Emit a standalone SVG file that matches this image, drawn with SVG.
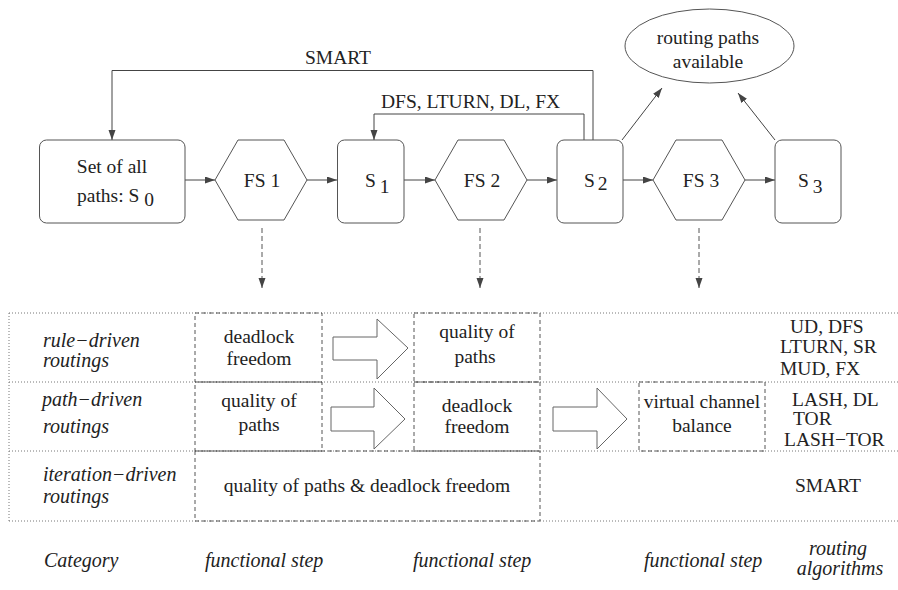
<svg xmlns="http://www.w3.org/2000/svg" width="898" height="590" viewBox="0 0 898 590">
<style>
text{font-family:"Liberation Serif","Times New Roman",serif;font-size:19.5px;fill:#222}
.it{font-style:italic;font-size:20px}
.mid{text-anchor:middle}
.node{fill:#fff;stroke:#555;stroke-width:1}
.con{fill:none;stroke:#444;stroke-width:1}
.dash{fill:none;stroke:#555;stroke-width:1;stroke-dasharray:5 3}
.dot{fill:none;stroke:#777;stroke-width:1;stroke-dasharray:1 2}
.box{fill:none;stroke:#555;stroke-width:1;stroke-dasharray:4 3}
.blk{fill:#fff;stroke:#666;stroke-width:1}
</style>
<defs>
<marker id="ah" markerUnits="userSpaceOnUse" markerWidth="11" markerHeight="8" refX="10" refY="3.5" orient="auto">
<path d="M0,0 L10,3.5 L0,7 z" fill="#444"/>
</marker>
</defs>
<rect width="898" height="590" fill="#fff"/>

<g id="connectors">
<path class="con" d="M593,140 V70.5 H112 V140" marker-end="url(#ah)"/>
<path class="con" d="M584,140 V114 H374 V140" marker-end="url(#ah)"/>
<line class="con" x1="185" y1="180" x2="215" y2="180" marker-end="url(#ah)"/>
<line class="con" x1="307" y1="180" x2="337" y2="180" marker-end="url(#ah)"/>
<line class="con" x1="404" y1="180" x2="435" y2="180" marker-end="url(#ah)"/>
<line class="con" x1="527" y1="180" x2="557" y2="180" marker-end="url(#ah)"/>
<line class="con" x1="623" y1="180" x2="653" y2="180" marker-end="url(#ah)"/>
<line class="con" x1="745" y1="180" x2="775" y2="180" marker-end="url(#ah)"/>
<line class="con" x1="622" y1="140" x2="662" y2="88" marker-end="url(#ah)"/>
<line class="con" x1="775" y1="140" x2="738" y2="93" marker-end="url(#ah)"/>
<line class="dash" x1="262" y1="228" x2="262" y2="288" marker-end="url(#ah)"/>
<line class="dash" x1="480" y1="228" x2="480" y2="288" marker-end="url(#ah)"/>
<line class="dash" x1="699" y1="228" x2="699" y2="288" marker-end="url(#ah)"/>
</g>
<text x="338" y="64" class="mid">SMART</text>
<text x="381" y="108">DFS, LTURN, DL, FX</text>

<g id="S0">
<rect class="node" x="39.5" y="140" width="145.5" height="83" rx="7"/>
<text x="112" y="173" class="mid">Set of all</text>
<text x="77" y="202">paths: S<tspan dx="5" dy="4">0</tspan></text>
</g>
<g id="FS1">
<polygon class="node" points="215,180 238,140 284,140 307,180 284,220 238,220"/>
<text x="262" y="187" class="mid">FS 1</text>
</g>
<g id="S1">
<rect class="node" x="337.5" y="140" width="66.5" height="83" rx="7"/>
<text x="365" y="187">S<tspan dx="4" dy="6">1</tspan></text>
</g>
<g id="FS2">
<polygon class="node" points="435,180 458,140 504,140 527,180 504,220 458,220"/>
<text x="482" y="187" class="mid">FS 2</text>
</g>
<g id="S2">
<rect class="node" x="557" y="140" width="66" height="83" rx="7"/>
<text x="584" y="187">S<tspan dx="3" dy="3">2</tspan></text>
</g>
<g id="FS3">
<polygon class="node" points="653,180 676,140 722,140 745,180 722,220 676,220"/>
<text x="701" y="187" class="mid">FS 3</text>
</g>
<g id="S3">
<rect class="node" x="775" y="140" width="66" height="83" rx="7"/>
<text x="798" y="187">S<tspan dx="4" dy="6">3</tspan></text>
</g>
<g id="available">
<ellipse class="node" cx="709.5" cy="46" rx="84.5" ry="37"/>
<text x="708" y="44" class="mid">routing paths</text>
<text x="708" y="68" class="mid">available</text>
</g>

<g id="table">
<path class="dot" d="M9,313 H898 M9,382 H898 M9,451 H898 M9,521 H898 M9,313 V521"/>
<rect class="box" x="195" y="313" width="127" height="69"/>
<rect class="box" x="414" y="313" width="126" height="69"/>
<rect class="box" x="195" y="382" width="127" height="69"/>
<rect class="box" x="414" y="382" width="126" height="69"/>
<rect class="box" x="639" y="382" width="126" height="69"/>
<rect class="box" x="195" y="451" width="345" height="70"/>
<polygon class="blk" points="333,337 377,337 377,319 408,348 377,379 377,360 333,360"/>
<polygon class="blk" points="331,407 374,407 374,388 405,419 374,449 374,431 331,431"/>
<polygon class="blk" points="553,407 597,407 597,388 627,419 597,449 597,431 553,431"/>

<text x="43" y="347" class="it">rule−driven</text>
<text x="43" y="367" class="it">routings</text>
<text x="42" y="406" class="it">path−driven</text>
<text x="43" y="433" class="it">routings</text>
<text x="43" y="481" class="it">iteration−driven</text>
<text x="43" y="503" class="it">routings</text>

<text x="259" y="343" class="mid">deadlock</text>
<text x="259" y="365" class="mid">freedom</text>
<text x="477" y="338" class="mid">quality of</text>
<text x="475" y="363" class="mid">paths</text>
<text x="259" y="407" class="mid">quality of</text>
<text x="259" y="431" class="mid">paths</text>
<text x="477" y="412" class="mid">deadlock</text>
<text x="477" y="433" class="mid">freedom</text>
<text x="702" y="408" class="mid">virtual channel</text>
<text x="702" y="432" class="mid">balance</text>
<text x="367" y="492" class="mid">quality of paths &amp; deadlock freedom</text>

<text x="790" y="333">UD, DFS</text>
<text x="780" y="353">LTURN, SR</text>
<text x="780" y="375">MUD, FX</text>
<text x="792" y="406">LASH, DL</text>
<text x="793" y="425">TOR</text>
<text x="784" y="446">LASH−TOR</text>
<text x="795" y="492">SMART</text>
</g>

<g id="legend">
<text x="44" y="567" class="it">Category</text>
<text x="205" y="567" class="it">functional step</text>
<text x="413" y="567" class="it">functional step</text>
<text x="644" y="567" class="it">functional step</text>
<text x="838" y="555" class="it mid">routing</text>
<text x="840" y="575" class="it mid">algorithms</text>
</g>
</svg>
